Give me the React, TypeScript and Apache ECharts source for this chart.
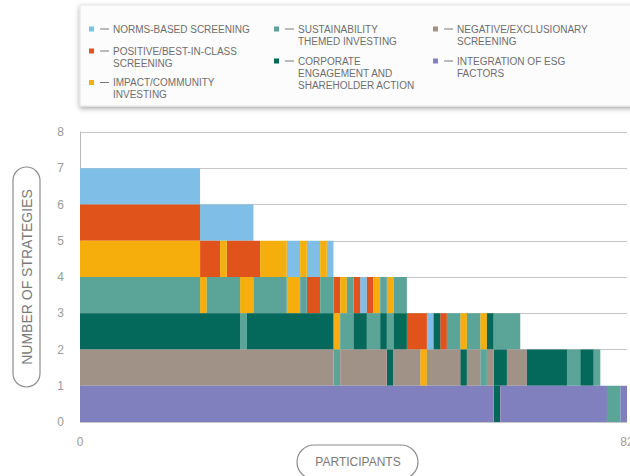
import React, { useEffect, useRef } from "react";
import * as echarts from "echarts";

// Strategy order (top of the stack first)
const strategyKeys = ["NORM", "POS", "IMP", "SUST", "CORP", "NEG", "INT"];
const strategyNames = [
  "NORMS-BASED SCREENING",
  "POSITIVE/BEST-IN-CLASS\nSCREENING",
  "IMPACT/COMMUNITY\nINVESTING",
  "SUSTAINABILITY\nTHEMED INVESTING",
  "CORPORATE\nENGAGEMENT AND\nSHAREHOLDER ACTION",
  "NEGATIVE/EXCLUSIONARY\nSCREENING",
  "INTEGRATION OF ESG\nFACTORS",
];
const strategyColors = ["#7fbfe7", "#e0531a", "#f6ae0c", "#5aa597", "#04695a", "#a09286", "#8180be"];

const participantTotal = 82;
const yTicks = [0, 1, 2, 3, 4, 5, 6, 7, 8];

// Run-length encoded strategy per stack level: [strategy, number of participants]
const level0: [string, number][] = [["INT", 62], ["CORP", 1], ["INT", 16], ["SUST", 2], ["INT", 1]];
const level1: [string, number][] = [
  ["NEG", 38], ["SUST", 1], ["NEG", 7], ["CORP", 1], ["NEG", 4], ["IMP", 1], ["NEG", 5], ["CORP", 1],
  ["NEG", 2], ["SUST", 1], ["NEG", 1], ["CORP", 2], ["NEG", 3], ["CORP", 6], ["SUST", 2], ["CORP", 2], ["SUST", 1],
];
const level2: [string, number][] = [
  ["CORP", 24], ["SUST", 1], ["CORP", 13], ["IMP", 1], ["SUST", 2], ["CORP", 2], ["SUST", 2], ["CORP", 1],
  ["SUST", 1], ["CORP", 2], ["POS", 3], ["NORM", 1], ["CORP", 1], ["POS", 1], ["SUST", 2], ["IMP", 1],
  ["SUST", 2], ["IMP", 1], ["CORP", 1], ["SUST", 4],
];
const level3: [string, number][] = [
  ["SUST", 18], ["IMP", 1], ["SUST", 5], ["IMP", 2], ["SUST", 5], ["IMP", 2], ["SUST", 1], ["POS", 2],
  ["SUST", 2], ["POS", 1], ["IMP", 1], ["SUST", 1], ["POS", 1], ["NORM", 1], ["POS", 1], ["IMP", 1],
  ["SUST", 1], ["IMP", 1], ["SUST", 2],
];
const level4: [string, number][] = [
  ["IMP", 18], ["POS", 3], ["IMP", 1], ["POS", 5], ["IMP", 4], ["NORM", 2], ["IMP", 1], ["NORM", 2], ["IMP", 1], ["NORM", 1],
];
const level5: [string, number][] = [["POS", 18], ["NORM", 8]];
const level6: [string, number][] = [["NORM", 18]];

const levels = [level0, level1, level2, level3, level4, level5, level6];

// legend layout: square left x, first-line centre y
const legendPos = [
  [89, 29], [89, 51], [89, 82.5],
  [274, 29], [274, 61],
  [433, 29], [433, 61],
];

const FONT = "'Liberation Sans', Arial, sans-serif";

function buildSeries() {
  const perStrategy: number[][][] = strategyKeys.map(() => []);
  levels.forEach((runs, lv) => {
    let start = 0;
    runs.forEach(([key, count]) => {
      const k = strategyKeys.indexOf(key);
      perStrategy[k].push([start, start + count, lv]);
      start += count;
    });
  });
  return strategyKeys.map((key, k) => ({
    type: "custom",
    name: strategyNames[k].replace(/\n/g, " "),
    itemStyle: { color: strategyColors[k] },
    encode: { x: [0, 1], y: 2 },
    data: perStrategy[k],
    renderItem: (params: any, api: any) => {
      const x0 = api.value(0);
      const x1 = api.value(1);
      const lv = api.value(2);
      const p0 = api.coord([x0, lv + 1]);
      const p1 = api.coord([x1, lv]);
      return {
        type: "rect",
        shape: { x: p0[0], y: p0[1], width: p1[0] - p0[0], height: p1[1] - p0[1] },
        style: { fill: strategyColors[k] },
      };
    },
  }));
}

function buildGraphic() {
  const els: any[] = [];
  els.push({
    type: "rect",
    shape: { x: 80, y: 5, width: 570, height: 101 },
    style: {
      fill: "#fcfcfc",
      stroke: "#e4e4e4",
      lineWidth: 1,
      shadowBlur: 5,
      shadowColor: "rgba(0,0,0,0.35)",
      shadowOffsetY: 2,
    },
    z: 0,
  });
  strategyNames.forEach((name, k) => {
    const [sx, cy] = legendPos[k];
    els.push({
      type: "rect",
      shape: { x: sx, y: cy - 2.5, width: 5, height: 5 },
      style: { fill: strategyColors[k] },
      z: 2,
    });
    els.push({
      type: "line",
      shape: { x1: sx + 11, y1: cy, x2: sx + 20, y2: cy },
      style: { stroke: "#7a7a7a", lineWidth: 1 },
      z: 2,
    });
    els.push({
      type: "text",
      x: sx + 24,
      y: cy - 6,
      style: {
        text: name,
        fill: "#6e6e6e",
        font: `10px ${FONT}`,
        lineHeight: 12,
        align: "left",
        verticalAlign: "top",
        textAlign: "left",
        textVerticalAlign: "top",
      },
      z: 2,
    });
  });
  // Y axis name pill
  els.push({
    type: "rect",
    shape: { x: 13, y: 167, width: 27, height: 220, r: 13.5 },
    style: { fill: "none", stroke: "#8c8c8c", lineWidth: 1.2 },
  });
  els.push({
    type: "text",
    x: 26.5,
    y: 277,
    rotation: Math.PI / 2,
    style: {
      text: "NUMBER OF STRATEGIES",
      fill: "#7a7a7a",
      font: `14px ${FONT}`,
      align: "center",
      verticalAlign: "middle",
      textAlign: "center",
      textVerticalAlign: "middle",
    },
  });
  // X axis name pill
  els.push({
    type: "rect",
    shape: { x: 297, y: 445, width: 121, height: 34, r: 17 },
    style: { fill: "none", stroke: "#8c8c8c", lineWidth: 1.2 },
  });
  els.push({
    type: "text",
    x: 358,
    y: 462,
    style: {
      text: "PARTICIPANTS",
      fill: "#7a7a7a",
      font: `12px ${FONT}`,
      align: "center",
      verticalAlign: "middle",
      textAlign: "center",
      textVerticalAlign: "middle",
    },
  });
  return els;
}

export default function App() {
  const ref = useRef<HTMLDivElement>(null);
  useEffect(() => {
    if (!ref.current) return;
    const chart = echarts.init(ref.current, undefined, { renderer: "svg" });
    chart.setOption({
      animation: false,
      backgroundColor: "#ffffff",
      grid: { left: 80, right: 3, top: 132, bottom: 54, containLabel: false, outerBoundsMode: "none" },
      xAxis: {
        type: "value",
        min: 0,
        max: participantTotal,
        interval: participantTotal,
        axisLine: { show: false },
        axisTick: { show: false },
        splitLine: { show: false },
        axisLabel: {
          color: "#9a9a9a",
          fontSize: 12,
          fontFamily: FONT,
          margin: 14,
          showMinLabel: true,
          showMaxLabel: true,
          alignMinLabel: "center",
          alignMaxLabel: "center",
          hideOverlap: false,
        },
      },
      yAxis: {
        type: "value",
        min: yTicks[0],
        max: yTicks[yTicks.length - 1],
        interval: 1,
        axisLine: { show: true, lineStyle: { color: "#b8b8b8", width: 1 } },
        axisTick: { show: false },
        splitLine: { show: true, lineStyle: { color: "#c6c6c6", width: 1 } },
        axisLabel: {
          color: "#9a9a9a",
          fontSize: 12,
          fontFamily: FONT,
          margin: 16,
          formatter: (v: number) => String(yTicks[v] ?? v),
        },
      },
      graphic: buildGraphic(),
      series: buildSeries(),
    });
    return () => chart.dispose();
  }, []);
  return (
    <div
      ref={ref}
      style={{ position: "fixed", left: 0, top: 0, width: 630, height: 476, background: "#fff" }}
    />
  );
}
